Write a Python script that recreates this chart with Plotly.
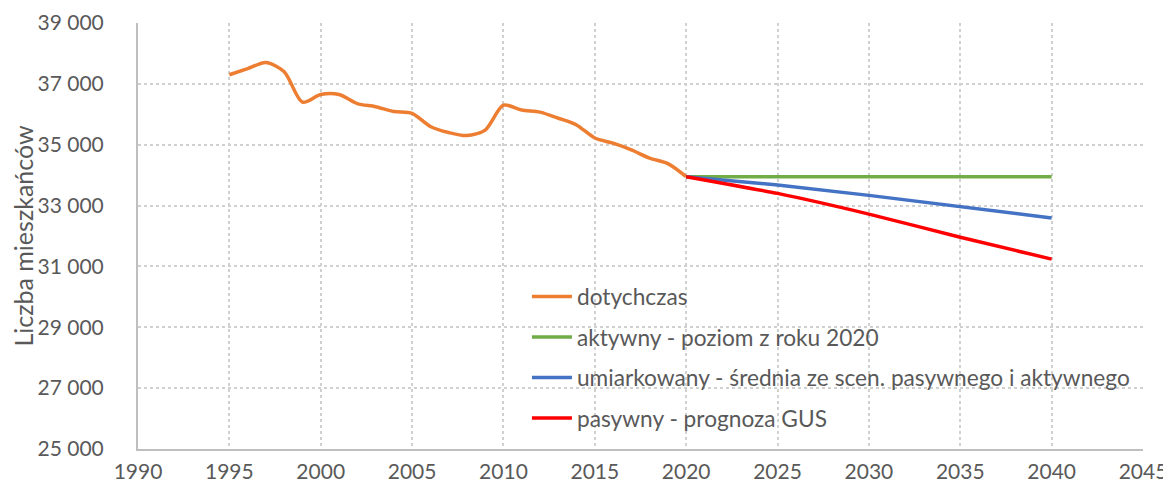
import plotly.graph_objects as go

hist_years = list(range(1995, 2021))
hist_values = [37300, 37500, 37700, 37400, 36400, 36650, 36650, 36350, 36250, 36090,
               36030, 35600, 35400, 35300, 35480, 36300, 36140, 36070, 35870, 35650,
               35220, 35050, 34830, 34560, 34380, 33950]

proj_years = [2020, 2025, 2030, 2035, 2040]
aktywny = [33950, 33950, 33950, 33950, 33950]
umiarkowany = [33950, 33675, 33335, 32955, 32595]
pasywny = [33950, 33400, 32720, 31960, 31240]

names = ["dotychczas", "aktywny - poziom z roku 2020",
         "umiarkowany - średnia ze scen. pasywnego i aktywnego",
         "pasywny - prognoza GUS"]
colors = ["#ED7D31", "#70AD47", "#4472C4", "#FF0000"]

y_ticks = [25000, 27000, 29000, 31000, 33000, 35000, 37000, 39000]
y_ticktext = ["25 000", "27 000", "29 000", "31 000", "33 000", "35 000", "37 000", "39 000"]
x_ticks = list(range(1990, 2046, 5))

FONT = "Lato"
GREY = "#595959"

fig = go.Figure()
fig.add_trace(go.Scatter(x=hist_years, y=hist_values, mode="lines", name=names[0],
                         line=dict(color=colors[0], width=3.5, shape="spline", smoothing=0.8),
                         legendgroup="a"))
fig.add_trace(go.Scatter(x=proj_years, y=aktywny, mode="lines", name=names[1],
                         line=dict(color=colors[1], width=3.5), legendgroup="b"))
fig.add_trace(go.Scatter(x=proj_years, y=umiarkowany, mode="lines", name=names[2],
                         line=dict(color=colors[2], width=3.5), legendgroup="c"))
fig.add_trace(go.Scatter(x=proj_years, y=pasywny, mode="lines", name=names[3],
                         line=dict(color=colors[3], width=3.5, shape="spline", smoothing=0.5),
                         legendgroup="d"))

# white legend backdrop hiding the gridlines behind the legend
fig.add_shape(type="rect", xref="paper", yref="paper", x0=0.35, x1=1.006,
              y0=0.021, y1=0.408, fillcolor="white", line_width=0, layer="between")

fig.update_layout(
    width=1163, height=482,
    margin=dict(l=130, r=28, t=15, b=41),
    paper_bgcolor="white", plot_bgcolor="white",
    font=dict(family=FONT, color=GREY, size=21),
    showlegend=True,
    legend=dict(x=0.387, y=0.408, xanchor="left", yanchor="top",
                bgcolor="rgba(0,0,0,0)", borderwidth=0,
                font=dict(family=FONT, size=22.7, color=GREY),
                tracegroupgap=8, itemwidth=40),
    xaxis=dict(range=[1990, 2045], tickvals=x_ticks, ticks="", automargin=False,
               showgrid=True, gridcolor="#D0D0D0", griddash="dot", gridwidth=1.5,
               showline=True, linecolor="#BFBFBF", linewidth=2,
               zeroline=False, ticklabelstandoff=3,
               tickfont=dict(size=21, family=FONT, color=GREY)),
    yaxis=dict(range=[25000, 39000], tickvals=y_ticks, ticktext=y_ticktext, ticks="",
               automargin=False,
               showgrid=True, gridcolor="#D0D0D0", griddash="dot", gridwidth=1.5,
               showline=True, linecolor="#BFBFBF", linewidth=2,
               zeroline=False, ticklabelstandoff=28,
               tickfont=dict(size=21, family=FONT, color=GREY),
               title=dict(text="Liczba mieszkańców", standoff=4,
                          font=dict(size=25, family=FONT, color=GREY))),
)

fig.write_html("out.html")
